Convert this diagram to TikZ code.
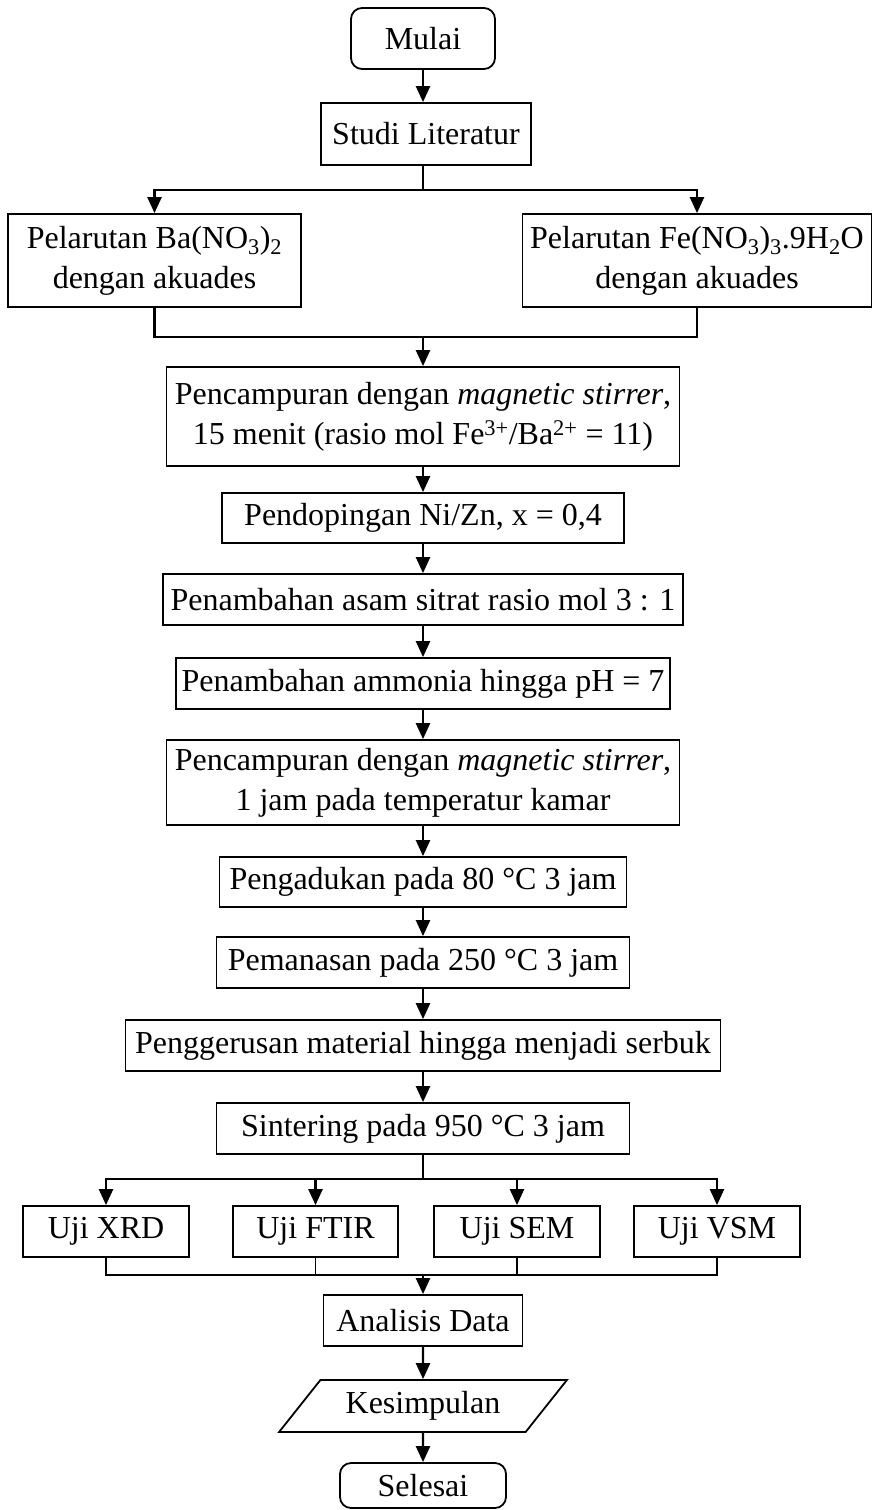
\documentclass[tikz,border=0pt]{standalone}
\usepackage{fontspec}
\setmainfont{Liberation Serif}
\usetikzlibrary{arrows.meta, shapes.geometric}

\begin{document}
\begin{tikzpicture}[x=1pt, y=-1pt,
    font=\fontsize{32}{40}\selectfont,
    box/.style={draw, line width=1.8pt, inner sep=0pt, align=center, minimum height=51pt},
    term/.style={box, rounded corners=11pt},
    io/.style={box, trapezium, trapezium left angle=43, trapezium right angle=137, trapezium stretches=true},
    ln/.style={line width=2.4pt},
    thinln/.style={line width=1.1pt},
    arr/.style={line width=2.4pt, -{Triangle[length=16pt, width=14pt]}}]
    \useasboundingbox (0, 0) rectangle (873, 1510);

    \node[term, minimum width=144pt, minimum height=61pt] (mulai) at (423, 38.5) {Mulai};
    \node[box, minimum width=210pt, minimum height=62pt] (studi) at (426, 134) {Studi Literatur};
    \node[box, minimum width=293pt, minimum height=93pt] (ba) at (154.5, 260.5) {Pelarutan Ba(NO\textsubscript{3})\textsubscript{2}\\dengan akuades};
    \node[box, minimum width=349pt, minimum height=93pt] (fe) at (697, 260.5) {Pelarutan Fe(NO\textsubscript{3})\textsubscript{3}.9H\textsubscript{2}O\\dengan akuades};
    \node[box, minimum width=513pt, minimum height=99pt] (mix1) at (423, 416.5) {Pencampuran dengan \textit{magnetic stirrer},\\15 menit (rasio mol Fe\textsuperscript{3+}/Ba\textsuperscript{2+} = 11)};
    \node[box, minimum width=402pt, minimum height=50pt] (dop) at (423, 518) {Pendopingan Ni/Zn, x = 0,4};
    \node[box, minimum width=520pt] (sitrat) at (423, 599.5) {Penambahan asam sitrat rasio mol 3 : 1};
    \node[box, minimum width=494pt] (amonia) at (423, 683.5) {Penambahan ammonia hingga pH = 7};
    \node[box, minimum width=513pt, minimum height=85pt] (mix2) at (423, 782.5) {Pencampuran dengan \textit{magnetic stirrer},\\1 jam pada temperatur kamar};
    \node[box, minimum width=407pt, minimum height=50pt] (aduk) at (423, 882) {Pengadukan pada 80 °C 3 jam};
    \node[box, minimum width=413pt] (panas) at (423, 962.5) {Pemanasan pada 250 °C 3 jam};
    \node[box, minimum width=595pt] (gerus) at (423, 1045.5) {Penggerusan material hingga menjadi serbuk};
    \node[box, minimum width=413pt] (sinter) at (423, 1128.5) {Sintering pada 950 °C 3 jam};

    \node[box, minimum width=166pt] (xrd) at (106, 1231.5) {Uji XRD};
    \node[box, minimum width=165pt] (ftir) at (315.5, 1231.5) {Uji FTIR};
    \node[box, minimum width=166pt] (sem) at (517, 1231.5) {Uji SEM};
    \node[box, minimum width=166pt] (vsm) at (717, 1231.5) {Uji VSM};

    \node[box, minimum width=199pt] (analisis) at (423, 1320.5) {Analisis Data};
    \node[io, minimum width=288pt, minimum height=52pt] (simpul) at (423, 1406) {Kesimpulan};
    \node[term, minimum width=166pt, minimum height=45pt] (selesai) at (423, 1485.5) {Selesai};

    \coordinate (split1) at (423, 190);
    \coordinate (merge1) at (423, 337);
    \coordinate (split2) at (423, 1179);
    \coordinate (merge2) at (423, 1275);

    \draw[arr] (mulai) to (mulai |- studi.north);
    \draw[ln] (mulai |- studi.south) to (split1);
    \draw[arr] (split1) -| (ba);
    \draw[arr] (split1) -| (fe);
    \draw[ln] (ba) |- (merge1);
    \draw[ln] (fe) |- (merge1);
    \draw[arr] (merge1) to (mix1);
    \draw[arr] (mix1) to (dop);
    \draw[arr] (dop) to (sitrat);
    \draw[arr] (sitrat) to (amonia);
    \draw[arr] (amonia) to (mix2);
    \draw[arr] (mix2) to (aduk);
    \draw[arr] (aduk) to (panas);
    \draw[arr] (panas) to (gerus);
    \draw[arr] (gerus) to (sinter);

    \draw[ln] (sinter) to (split2);
    \draw[arr] (split2) -| (xrd);
    \draw[arr] (split2) -| (ftir);
    \draw[arr] (split2) -| (sem);
    \draw[arr] (split2) -| (vsm);
    \draw[ln] (xrd) |- (merge2);
    \draw[ln] (vsm) |- (merge2);
    \draw[thinln] (ftir) to (ftir |- merge2);
    \draw[thinln] (sem) to (sem |- merge2);
    \draw[arr] (merge2) to (analisis);
    \draw[arr] (analisis) to (simpul);
    \draw[arr] (simpul) to (selesai);
\end{tikzpicture}
\end{document}
